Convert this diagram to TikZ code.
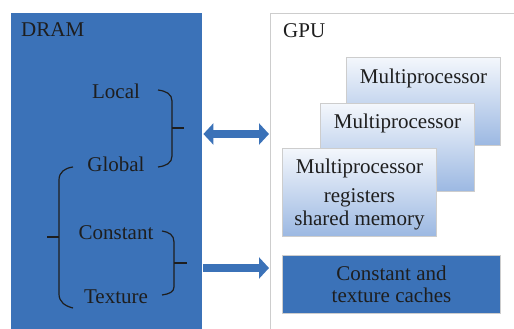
\documentclass[tikz,border=0pt]{standalone}
\usepackage{fontspec}
\setmainfont{Liberation Serif}
\usepackage{xcolor}
\usetikzlibrary{arrows.meta}
\usetikzlibrary{calc}
\definecolor{dramblue}{RGB}{59,114,184}
\definecolor{mptop}{RGB}{244,247,252}
\definecolor{mpbottom}{RGB}{155,184,226}
\definecolor{boxgray}{RGB}{205,205,205}
\definecolor{inkgray}{RGB}{30,30,30}
\tikzset{
  txt/.style={font=\fontsize{21}{25}\selectfont, text=inkgray, inner sep=0pt},
  mpbox/.style={draw=boxgray, line width=1pt, top color=mptop, bottom color=mpbottom,
    minimum width=154pt, minimum height=88pt, inner sep=0pt},
  bracepath/.style={draw=inkgray, line width=1.2pt},
  bigarrow/.style={draw=dramblue, line width=8pt, shorten >=1pt, shorten <=1pt}
}

\begin{document}
\begin{tikzpicture}[x=1pt, y=-1pt]
        \newcommand{\dramwidth}{191pt}
        \newcommand{\gpuwidth}{260pt}
        \newcommand{\memheight}{330pt}
        \newcommand{\brtick}{12}
        \useasboundingbox (0,0) rectangle (514,329);
        \clip (0,0) rectangle (514,329);
        % memory and gpu panels
        \node[fill=dramblue, minimum width=\dramwidth, minimum height=\memheight, inner sep=0pt, anchor=north west] (dram) at (11,13) {};
        \node[draw=boxgray, line width=1pt, fill=white, minimum width=\gpuwidth, minimum height=\memheight, inner sep=0pt, anchor=north west] (gpu) at (270,13) {};
        \node[txt, anchor=base west] (dramlabel) at (21,37) {DRAM};
        \node[txt, anchor=base west] (gpulabel) at (283,38) {GPU};
        % memory spaces
        \node[txt, anchor=base] (local) at (116,99) {Local};
        \node[txt, anchor=base] (global) at (116,171) {Global};
        \node[txt, anchor=base] (constant) at (116,239) {Constant};
        \node[txt, anchor=base] (texture) at (116,303) {Texture};
        % braces
        \draw[bracepath] (158,90) .. controls (166,91) and (172,94) .. (172,101) -- (172,156) .. controls (172,163) and (166,166) .. (158,167);
        \draw[bracepath] (172,128) -- ++(\brtick,0) coordinate (loctip);
        \draw[bracepath] (73,167) .. controls (65,168) and (59,172) .. (59,180) -- (59,294) .. controls (59,302) and (65,306) .. (73,308);
        \draw[bracepath] (59,237) -- ++(-\brtick,0) coordinate (globtip);
        \draw[bracepath] (162,231) .. controls (169,232) and (174,235) .. (174,242) -- (174,287) .. controls (174,292) and (169,294) .. (162,295);
        \draw[bracepath] (174,263) -- ++(\brtick+1,0) coordinate (consttip);
        % multiprocessors
        \node[mpbox, anchor=north west] (mpa) at (346,57) {};
        \node[mpbox, anchor=north west] (mpb) at (320,103) {};
        \node[mpbox, anchor=north west] (mpc) at (282,148) {};
        \node[txt, anchor=base] (mpatext) at ($(mpa.north)+(0,26)$) {Multiprocessor};
        \node[txt, anchor=base] (mpbtext) at ($(mpb.north)+(0,25)$) {Multiprocessor};
        \node[txt, anchor=base] (mpctext) at ($(mpc.north)+(0,25)$) {Multiprocessor};
        \node[txt, anchor=base] (regtext) at ($(mpc.north)+(0,54)$) {registers};
        \node[txt, anchor=base] (shmtext) at ($(mpc.north)+(0,77)$) {shared memory};
        \node[draw=boxgray, line width=1pt, fill=dramblue, minimum width=218pt, minimum height=58pt, inner sep=0pt, anchor=north west] (cache) at (282,255) {};
        \node[txt, anchor=base] (cachea) at ($(cache.north)+(0,25)$) {Constant and};
        \node[txt, anchor=base] (cacheb) at ($(cache.north)+(0,47)$) {texture caches};
        % transfers
        \draw[bigarrow, {Triangle[width=21pt,length=10pt]}-{Triangle[width=21pt,length=10pt]}] ($(dram.east |- loctip)+(0,6)$) -- ($(gpu.west |- loctip)+(0,6)$);
        \draw[bigarrow, -{Triangle[width=21pt,length=10pt]}] ($(dram.east |- consttip)+(0,5)$) -- ($(gpu.west |- consttip)+(0,5)$);
\end{tikzpicture}
\end{document}
